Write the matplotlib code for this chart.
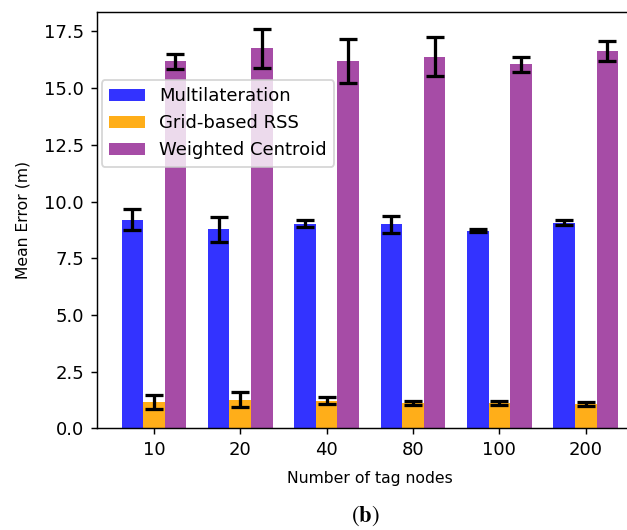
import numpy as np
import matplotlib
matplotlib.use("Agg")
import matplotlib.pyplot as plt

# Mean localisation error per number of tag nodes
tag_nodes = ["10", "20", "40", "80", "100", "200"]
multilateration = [9.20, 8.78, 9.02, 9.00, 8.72, 9.07]
multilateration_err = [0.47, 0.55, 0.15, 0.38, 0.08, 0.12]
grid_rss = [1.17, 1.26, 1.22, 1.10, 1.12, 1.07]
grid_rss_err = [0.32, 0.34, 0.16, 0.09, 0.10, 0.07]
weighted_centroid = [16.18, 16.75, 16.19, 16.38, 16.05, 16.62]
weighted_centroid_err = [0.32, 0.86, 0.98, 0.86, 0.32, 0.44]

DPI = 130
fig = plt.figure(figsize=(627 / DPI, 530 / DPI), dpi=DPI)
ax = fig.add_axes([0.1542, 0.1919, 0.8713, 0.786])

x = np.arange(len(tag_nodes))
w = 0.25
ekw = dict(ecolor="black", capsize=5, error_kw=dict(elinewidth=1.8, capthick=1.8))
ax.bar(x - w, multilateration, w, yerr=multilateration_err,
       color="blue", alpha=0.8, label="Multilateration", **ekw)
ax.bar(x, grid_rss, w, yerr=grid_rss_err,
       color="orange", alpha=0.9, label="Grid-based RSS", **ekw)
ax.bar(x + w, weighted_centroid, w, yerr=weighted_centroid_err,
       color="purple", alpha=0.7, label="Weighted Centroid", **ekw)

ax.set_xticks(x)
ax.set_xticklabels(tag_nodes)
ax.set_xlim(-0.6625, 5.6625)
ax.set_ylim(0, 18.37)
ax.spines["right"].set_visible(False)
ax.set_xlabel("Number of tag nodes", fontsize=8.7, labelpad=6.8)
ax.set_ylabel("Mean Error (m)", fontsize=8.7, labelpad=7.3)

ax.legend(loc="upper left", bbox_to_anchor=(0.0092, 0.836), borderaxespad=0)

plt.rcParams["mathtext.fontset"] = "stix"
fig.text(0.582, 0.016, r"($\mathbf{b}$)", ha="center", va="baseline",
         fontsize=12.5, family="STIXGeneral")

fig.savefig("out.png", dpi=DPI)
